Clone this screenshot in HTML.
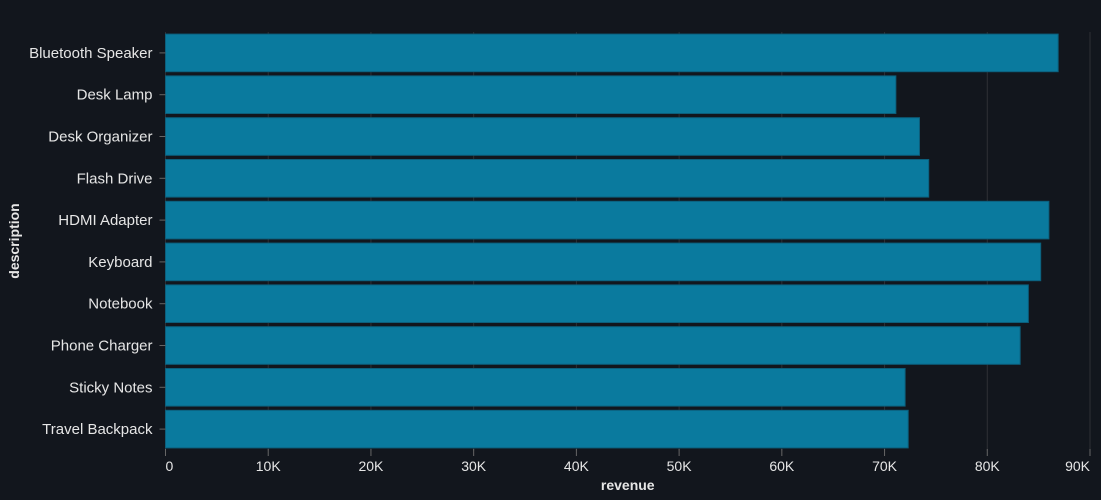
<!DOCTYPE html>
<html><head><meta charset="utf-8"><style>
body{margin:0;background:#12161d;}
svg{display:block;font-family:"Liberation Sans",sans-serif;}
</style></head><body>
<svg id="chart" width="1101" height="500"></svg>
<script>
const categories=["Bluetooth Speaker","Desk Lamp","Desk Organizer","Flash Drive","HDMI Adapter","Keyboard","Notebook","Phone Charger","Sticky Notes","Travel Backpack"];
const revenue=[86900,71100,73400,74300,86000,85200,84000,83200,72000,72300];
const tickValues=[0,10000,20000,30000,40000,50000,60000,70000,80000,90000];
const tickLabels=["0","10K","20K","30K","40K","50K","60K","70K","80K","90K"];
const svg=document.getElementById('chart');
const NS="http://www.w3.org/2000/svg";
const x0=165.5,x1=1090,plotTop=32,plotBottom=450,xmax=90000;
const xs=v=>x0+(x1-x0)*v/xmax;
const step=(plotBottom-plotTop)/categories.length;
const ys=i=>plotTop+step*i+step*0.05;
const bh=step*0.9;
function mk(t,a,txt){const e=document.createElementNS(NS,t);for(const k in a)e.setAttribute(k,a[k]);if(txt!==undefined)e.textContent=txt;svg.appendChild(e);return e;}
tickValues.forEach((v,i)=>{
 const g=mk('line',{x1:xs(v),x2:xs(v),y1:plotTop,y2:plotBottom+1,stroke:'#2e3035','stroke-width':1});
 
 
});
categories.forEach((c,i)=>{
 const r=mk('rect',{x:x0,y:ys(i),width:xs(revenue[i])-x0,height:bh,fill:'#0a7a9e',stroke:'#0c5f7c','stroke-width':1});
 
 
 const tk=mk('line',{x1:x0-6,x2:x0,y1:ys(i)+bh/2,y2:ys(i)+bh/2,stroke:'#666'});
 
 
 const t=mk('text',{x:x0-13,y:ys(i)+bh/2+5,'text-anchor':'end',fill:'#e6e6e6','font-size':15},c);
 
 
});
tickValues.forEach((v,i)=>{
 const tk=mk('line',{x1:xs(v),x2:xs(v),y1:plotBottom-1,y2:plotBottom+6,stroke:'#666'});
 
 
 const anchor=i===0?'start':(i===tickValues.length-1?'end':'middle');
 const t=mk('text',{x:xs(v),y:471,'text-anchor':anchor,fill:'#e6e6e6','font-size':14},tickLabels[i]);
 
 
});
const xt=mk('text',{x:(x0+x1)/2,y:490,'text-anchor':'middle',fill:'#e6e6e6','font-size':14,'font-weight':'bold'},'revenue');


const yt=mk('text',{x:0,y:0,'text-anchor':'middle',fill:'#e6e6e6','font-size':14,'font-weight':'bold',transform:'translate(19,'+((plotTop+plotBottom)/2)+') rotate(-90)'},'description');


</script>
</body></html>
